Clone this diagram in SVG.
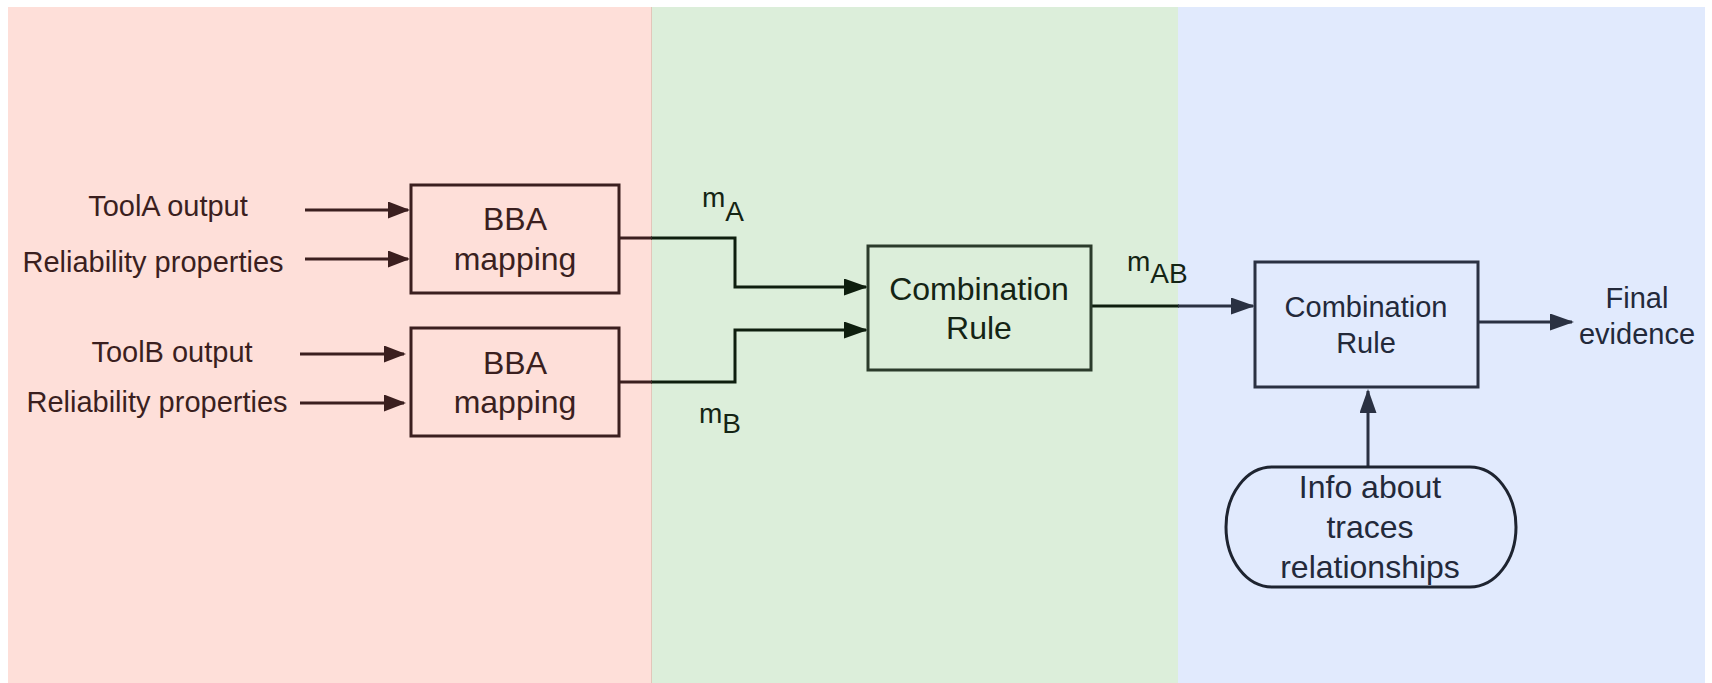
<svg xmlns="http://www.w3.org/2000/svg" width="1712" height="683" viewBox="0 0 1712 683">
<defs>
<style>
text{font-family:"Liberation Sans",Arial,sans-serif;}
.lbl{font-size:29px;text-anchor:middle;}
.big{font-size:32px;text-anchor:middle;}
.m{font-size:28px;}
.tb{fill:#3B1F1F;}
.tg{fill:#142414;}
.tl{fill:#23293A;}
.box{stroke-width:3;}
.cb{fill:none;stroke:#3B1F1F;stroke-width:3;}
.cg{fill:none;stroke:#0E1E0E;stroke-width:3;}
.cl{fill:none;stroke:#2A3142;stroke-width:3;}
</style>
<marker id="ab" markerUnits="userSpaceOnUse" markerWidth="24" markerHeight="18" refX="20" refY="8.5" orient="auto"><path d="M0,0 L22,8.5 L0,17 z" fill="#3B1F1F"/></marker>
<marker id="ag" markerUnits="userSpaceOnUse" markerWidth="26" markerHeight="18" refX="22" refY="8.5" orient="auto"><path d="M0,0 L24,8.5 L0,17 z" fill="#0E1E0E"/></marker>
<marker id="al" markerUnits="userSpaceOnUse" markerWidth="26" markerHeight="18" refX="22" refY="8.5" orient="auto"><path d="M0,0 L24,8.5 L0,17 z" fill="#2A3142"/></marker>
</defs>
<rect width="1712" height="683" fill="#FFFFFF"/>
<g id="panels">
<rect x="8" y="7" width="644" height="676" fill="#FEDFD9"/>
<rect x="652" y="7" width="526" height="676" fill="#DCEEDA"/>
<rect x="1178" y="7" width="527" height="676" fill="#E1EAFD"/>
<line x1="651.5" y1="7" x2="651.5" y2="683" stroke="#E2C6BA" stroke-width="1"/>
</g>
<g id="connectors">
<path class="cb" d="M305,210 H408" marker-end="url(#ab)"/>
<path class="cb" d="M305,259 H408" marker-end="url(#ab)"/>
<path class="cb" d="M300,354 H404" marker-end="url(#ab)"/>
<path class="cb" d="M300,403 H404" marker-end="url(#ab)"/>
<path class="cg" d="M651,238 H735 V287 H866" marker-end="url(#ag)"/>
<path class="cb" d="M619,238 H652"/>
<path class="cg" d="M651,382 H735 V330 H866" marker-end="url(#ag)"/>
<path class="cb" d="M619,382 H652"/>
<path class="cg" d="M1091,306 H1179"/>
<path class="cl" d="M1178,306 H1253" marker-end="url(#al)"/>
<path class="cl" d="M1478,322 H1572" marker-end="url(#al)"/>
<path class="cl" d="M1368,467 V391" marker-end="url(#al)"/>
</g>
<g id="labels">
<text class="lbl tb" x="168" y="216">ToolA output</text>
<text class="lbl tb" x="153" y="272">Reliability properties</text>
<text class="lbl tb" x="172" y="362">ToolB output</text>
<text class="lbl tb" x="157" y="412">Reliability properties</text>
<text class="m tg" x="702" y="207">m<tspan dy="14">A</tspan></text>
<text class="m tg" x="699" y="423">m<tspan dy="10">B</tspan></text>
<text class="m tg" x="1127" y="271">m<tspan dy="12">AB</tspan></text>
</g>
<g id="bbaA">
<rect class="box" x="411" y="185" width="208" height="108" fill="none" stroke="#3B1F1F"/>
<text class="big tb" x="515" y="230">BBA</text>
<text class="big tb" x="515" y="270">mapping</text>
</g>
<g id="bbaB">
<rect class="box" x="411" y="328" width="208" height="108" fill="none" stroke="#3B1F1F"/>
<text class="big tb" x="515" y="374">BBA</text>
<text class="big tb" x="515" y="413">mapping</text>
</g>
<g id="combo1">
<rect class="box" x="868" y="246" width="223" height="124" fill="none" stroke="#2B3B2B"/>
<text class="big tg" x="979" y="300">Combination</text>
<text class="big tg" x="979" y="339">Rule</text>
</g>
<g id="combo2">
<rect class="box" x="1255" y="262" width="223" height="125" fill="none" stroke="#2A3142"/>
<text class="lbl tl" x="1366" y="317">Combination</text>
<text class="lbl tl" x="1366" y="353">Rule</text>
</g>
<g id="final">
<text class="lbl tl" x="1637" y="308">Final</text>
<text class="lbl tl" x="1637" y="344">evidence</text>
</g>
<g id="info">
<rect class="box" x="1226" y="467" width="290" height="120" rx="46" ry="60" fill="none" stroke="#1E2430"/>
<text class="big tl" x="1370" y="498">Info about</text>
<text class="big tl" x="1370" y="538">traces</text>
<text class="big tl" x="1370" y="578">relationships</text>
</g>
</svg>
